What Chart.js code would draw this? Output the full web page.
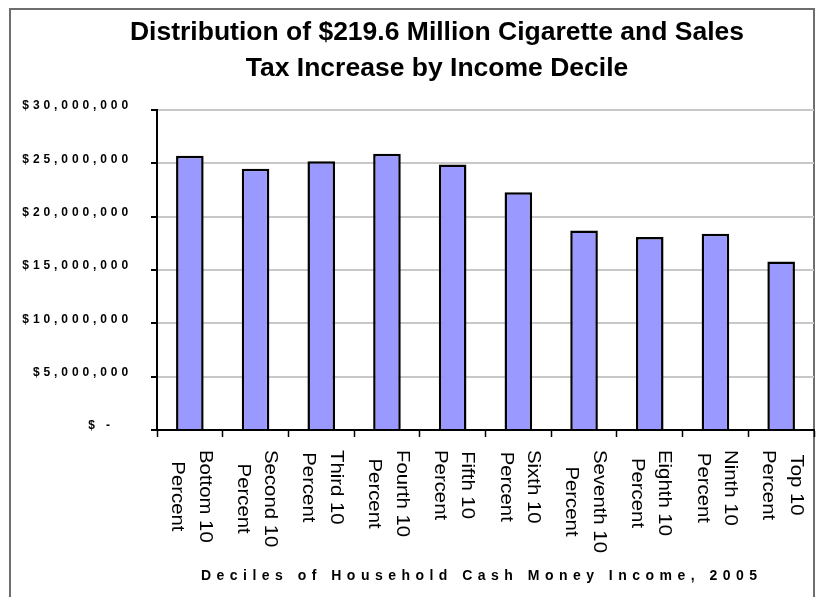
<!DOCTYPE html>
<html><head><meta charset="utf-8">
<script src="https://cdn.jsdelivr.net/npm/chart.js@4"></script>
<style>html,body{margin:0;padding:0;background:#fff;}canvas{display:block;}</style>
</head><body>
<canvas id="c" width="827" height="597"></canvas>
<script>
const titleLines = ['Distribution of $219.6 Million Cigarette and Sales', 'Tax Increase by Income Decile'];
const categories = [
  ['Bottom 10', 'Percent'], ['Second 10', 'Percent'], ['Third 10', 'Percent'],
  ['Fourth 10', 'Percent'], ['Fifth 10', 'Percent'], ['Sixth 10', 'Percent'],
  ['Seventh 10', 'Percent'], ['Eighth 10', 'Percent'], ['Ninth 10', 'Percent'],
  ['Top 10', 'Percent']
];
const taxIncrease = [25700000, 24500000, 25200000, 25900000, 24900000, 22300000, 18700000, 18100000, 18400000, 15800000];
const yTickValues = [0, 5000000, 10000000, 15000000, 20000000, 25000000, 30000000];
const yTickLabels = ['$ -', '$5,000,000', '$10,000,000', '$15,000,000', '$20,000,000', '$25,000,000', '$30,000,000'];
const xAxisTitle = 'Deciles of Household Cash Money Income, 2005';

const FONT = '"Liberation Sans", Arial, sans-serif';

const customDraw = {
  id: 'customDraw',
  beforeDraw(chart) {
    const ctx = chart.ctx;
    ctx.save();
    ctx.fillStyle = '#fff';
    ctx.fillRect(0, 0, chart.width, chart.height);
    ctx.strokeStyle = '#6e6e6e';
    ctx.lineWidth = 2;
    ctx.strokeRect(10, 9, chart.chartArea.right - 10, 700);
    ctx.restore();
  },
  afterDraw(chart) {
    const ctx = chart.ctx;
    const ys = chart.scales.y, xs = chart.scales.x;
    // title
    ctx.save();
    ctx.fillStyle = '#000';
    ctx.font = 'bold 26.5px ' + FONT;
    ctx.textAlign = 'center';
    ctx.textBaseline = 'alphabetic';
    titleLines.forEach((t, i) => ctx.fillText(t, 437, 39.5 + i * 36));
    ctx.restore();
    // y tick labels
    ctx.save();
    ctx.fillStyle = '#000';
    ctx.font = 'bold 12px ' + FONT;
    ctx.letterSpacing = '3.9px';
    ctx.textAlign = 'right';
    ctx.textBaseline = 'middle';
    yTickValues.forEach((v, i) => {
      let x = ys.right - 25;
      if (v === 0) x -= 18;
      ctx.fillText(yTickLabels[i], x, ys.getPixelForValue(v) - 4);
    });
    ctx.restore();
    // x tick labels, rotated clockwise
    ctx.save();
    ctx.fillStyle = '#000';
    ctx.font = '18.5px ' + FONT;
    const sx = 1.1, lineGap = 27.5, shift = -1;
    const top = xs.top + 20;
    categories.forEach((lines, i) => {
      const xc = xs.getPixelForValue(i);
      const maxW = Math.max(...lines.map(l => ctx.measureText(l).width)) * sx;
      ctx.save();
      ctx.translate(xc, top + maxW / 2);
      ctx.rotate(Math.PI / 2);
      ctx.scale(sx, 1);
      ctx.textAlign = 'center';
      ctx.textBaseline = 'middle';
      lines.forEach((l, j) => {
        ctx.fillText(l, 0, shift + (j - (lines.length - 1) / 2) * lineGap);
      });
      ctx.restore();
    });
    ctx.restore();
    // axis title
    ctx.save();
    ctx.fillStyle = '#000';
    ctx.font = 'bold 14px ' + FONT;
    const natural = ctx.measureText(xAxisTitle).width;
    const targetW = 556;
    const sp = (targetW - natural) / (xAxisTitle.length - 1);
    ctx.letterSpacing = sp + 'px';
    ctx.textAlign = 'left';
    ctx.textBaseline = 'middle';
    ctx.fillText(xAxisTitle, 201, 576);
    ctx.restore();
  }
};

new Chart(document.getElementById('c'), {
  type: 'bar',
  data: {
    labels: categories,
    datasets: [{
      data: taxIncrease,
      backgroundColor: '#9999ff',
      borderColor: '#000',
      borderWidth: 2.5,
      barPercentage: 0.42,
      categoryPercentage: 1
    }]
  },
  options: {
    responsive: false,
    animation: false,
    layout: { padding: { left: 0, right: 13, top: 110, bottom: 0 } },
    plugins: {
      legend: { display: false },
      tooltip: { enabled: false },
      title: { display: false }
    },
    scales: {
      x: {
        grid: { display: true, drawOnChartArea: false, drawTicks: true, tickLength: 7, tickColor: '#000', tickWidth: 1.5, offset: true },
        border: { color: '#000', width: 2 },
        ticks: { display: false },
        afterFit: s => { s.height = 167; }
      },
      y: {
        min: 0, max: 30000000,
        afterBuildTicks: s => { s.ticks = yTickValues.map(v => ({ value: v })); },
        ticks: { display: false },
        grid: { color: '#c8c8c8', lineWidth: 2, tickColor: '#000', tickLength: 6, tickWidth: 2 },
        border: { color: '#000', width: 2 },
        afterFit: s => { s.width = 157; }
      }
    }
  },
  plugins: [customDraw]
});
</script>
</body></html>
